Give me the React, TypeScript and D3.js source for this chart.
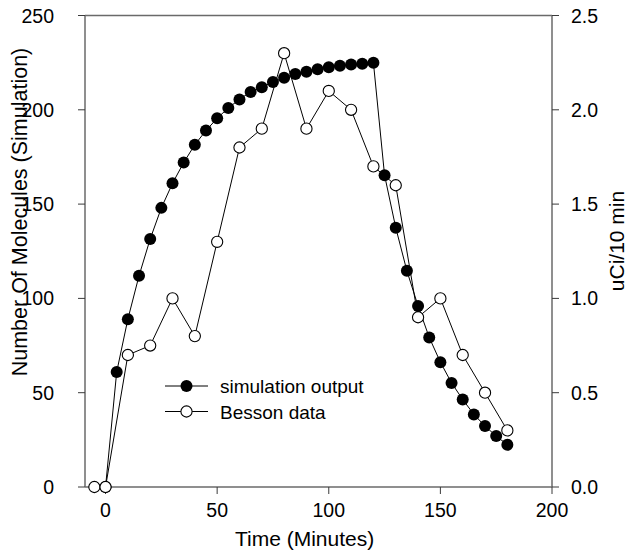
import React from "react";
import * as d3 from "d3";

// Simulation output (number of molecules), sampled every 5 minutes
const simTime = [0, 5, 10, 15, 20, 25, 30, 35, 40, 45, 50, 55, 60, 65, 70, 75, 80, 85, 90, 95, 100, 105, 110, 115, 120, 125, 130, 135, 140, 145, 150, 155, 160, 165, 170, 175, 180];
const simValue = [0, 61, 89, 112, 131.5, 148, 161, 172, 181.5, 189, 195.5, 201, 205.5, 209.5, 212, 214.7, 217, 219, 220.2, 221.5, 222.6, 223.3, 224, 224.4, 225, 165.3, 137.5, 114.6, 96, 79.3, 66.2, 55.2, 46.4, 38.5, 32.3, 27, 22.4];

// Besson measurements (uCi / 10 min)
const bessonTime = [-5, 0, 10, 20, 30, 40, 50, 60, 70, 80, 90, 100, 110, 120, 130, 140, 150, 160, 170, 180];
const bessonValue = [0, 0, 0.7, 0.75, 1.0, 0.8, 1.3, 1.8, 1.9, 2.3, 1.9, 2.1, 2.0, 1.7, 1.6, 0.9, 1.0, 0.7, 0.5, 0.3];

const xTicks = [0, 50, 100, 150, 200];
const yLeftTicks = [0, 50, 100, 150, 200, 250];
const yRightTicks = [0, 0.5, 1.0, 1.5, 2.0, 2.5];

const seriesNames = ["simulation output", "Besson data"];

const W = 629;
const H = 556;
const plot = { left: 85, right: 552, top: 15.5, bottom: 487 };

const FONT = "'Liberation Sans', Arial, Helvetica, sans-serif";
const AXIS = "#6a6a6a";
const TICK = "#3a3a3a";

export default function App() {
  const x = d3.scaleLinear().domain([-9.2, 200]).range([plot.left, plot.right]);
  const yL = d3.scaleLinear().domain([0, 250]).range([plot.bottom, plot.top]);
  const yR = d3.scaleLinear().domain([0, 2.5]).range([plot.bottom, plot.top]);

  const simPts: [number, number][] = simTime.map((t, i) => [x(t), yL(simValue[i])]);
  const besPts: [number, number][] = bessonTime.map((t, i) => [x(t), yR(bessonValue[i])]);
  const line = d3.line();

  const tickLen = 7;
  const legX = 165;
  const legY = [386, 411.5];

  return (
    <svg width={W} height={H} style={{ position: "absolute", left: 0, top: 0, background: "#fff" }} fontFamily={FONT}>
      <rect width={W} height={H} fill="#fff" />

      {/* frame */}
      <line x1={plot.left} x2={plot.right} y1={plot.top} y2={plot.top} stroke={AXIS} strokeWidth={1.5} />
      <line x1={plot.left} x2={plot.right} y1={plot.bottom} y2={plot.bottom} stroke={AXIS} strokeWidth={1.5} />
      <line x1={plot.left} x2={plot.left} y1={plot.top} y2={plot.bottom} stroke={AXIS} strokeWidth={1.5} />
      <line x1={plot.right} x2={plot.right} y1={plot.top} y2={plot.bottom} stroke={AXIS} strokeWidth={1.5} />

      {/* bottom axis */}
      {xTicks.map((t) => (
        <g key={"x" + t}>
          <line x1={x(t)} x2={x(t)} y1={plot.bottom} y2={plot.bottom + tickLen} stroke={TICK} strokeWidth={1} />
          <text x={x(t)} y={plot.bottom + 30} textAnchor="middle" fontSize={19.5} fill="#000">{t}</text>
        </g>
      ))}
      <text x={235} y={546} textAnchor="start" fontSize={21} fill="#000">Time (Minutes)</text>

      {/* left axis */}
      {yLeftTicks.map((t) => (
        <g key={"yl" + t}>
          <line x1={plot.left - tickLen} x2={plot.left} y1={yL(t)} y2={yL(t)} stroke={TICK} strokeWidth={1} />
          <text x={plot.left - 31} y={yL(t) + 7} textAnchor="end" fontSize={19.5} fill="#000">{t}</text>
        </g>
      ))}
      <text transform={`translate(27, 212) rotate(-90)`} textAnchor="middle" fontSize={21.5} fill="#000">Number Of Molecules (Simulation)</text>

      {/* right axis */}
      {yRightTicks.map((t) => (
        <g key={"yr" + t}>
          <line x1={plot.right} x2={plot.right + tickLen} y1={yR(t)} y2={yR(t)} stroke={TICK} strokeWidth={1} />
          <text x={plot.right + 19} y={yR(t) + 7} textAnchor="start" fontSize={19.5} fill="#000">{t.toFixed(1)}</text>
        </g>
      ))}
      <text transform={`translate(624, 241) rotate(-90)`} textAnchor="middle" fontSize={21} fill="#000">uCi/10 min</text>

      {/* simulation series */}
      <path d={line(simPts) || ""} fill="none" stroke="#000" strokeWidth={1} />
      {simPts.map(([px, py], i) => (
        <circle key={"s" + i} cx={px} cy={py} r={6} fill="#000" />
      ))}

      {/* Besson series */}
      <path d={line(besPts) || ""} fill="none" stroke="#000" strokeWidth={1} />
      {besPts.map(([px, py], i) => (
        <circle key={"b" + i} cx={px} cy={py} r={5.6} fill="#fff" stroke="#000" strokeWidth={1.1} />
      ))}

      {/* legend */}
      {seriesNames.map((name, i) => (
        <g key={"leg" + i}>
          <line x1={legX} x2={legX + 43} y1={legY[i]} y2={legY[i]} stroke="#000" strokeWidth={1} />
          {i === 0 ? (
            <circle cx={legX + 21.5} cy={legY[i]} r={6} fill="#000" />
          ) : (
            <circle cx={legX + 21.5} cy={legY[i]} r={5.6} fill="#fff" stroke="#000" strokeWidth={1.1} />
          )}
          <text x={220} y={legY[i] + 7} fontSize={19} fill="#000">{name}</text>
        </g>
      ))}
    </svg>
  );
}
